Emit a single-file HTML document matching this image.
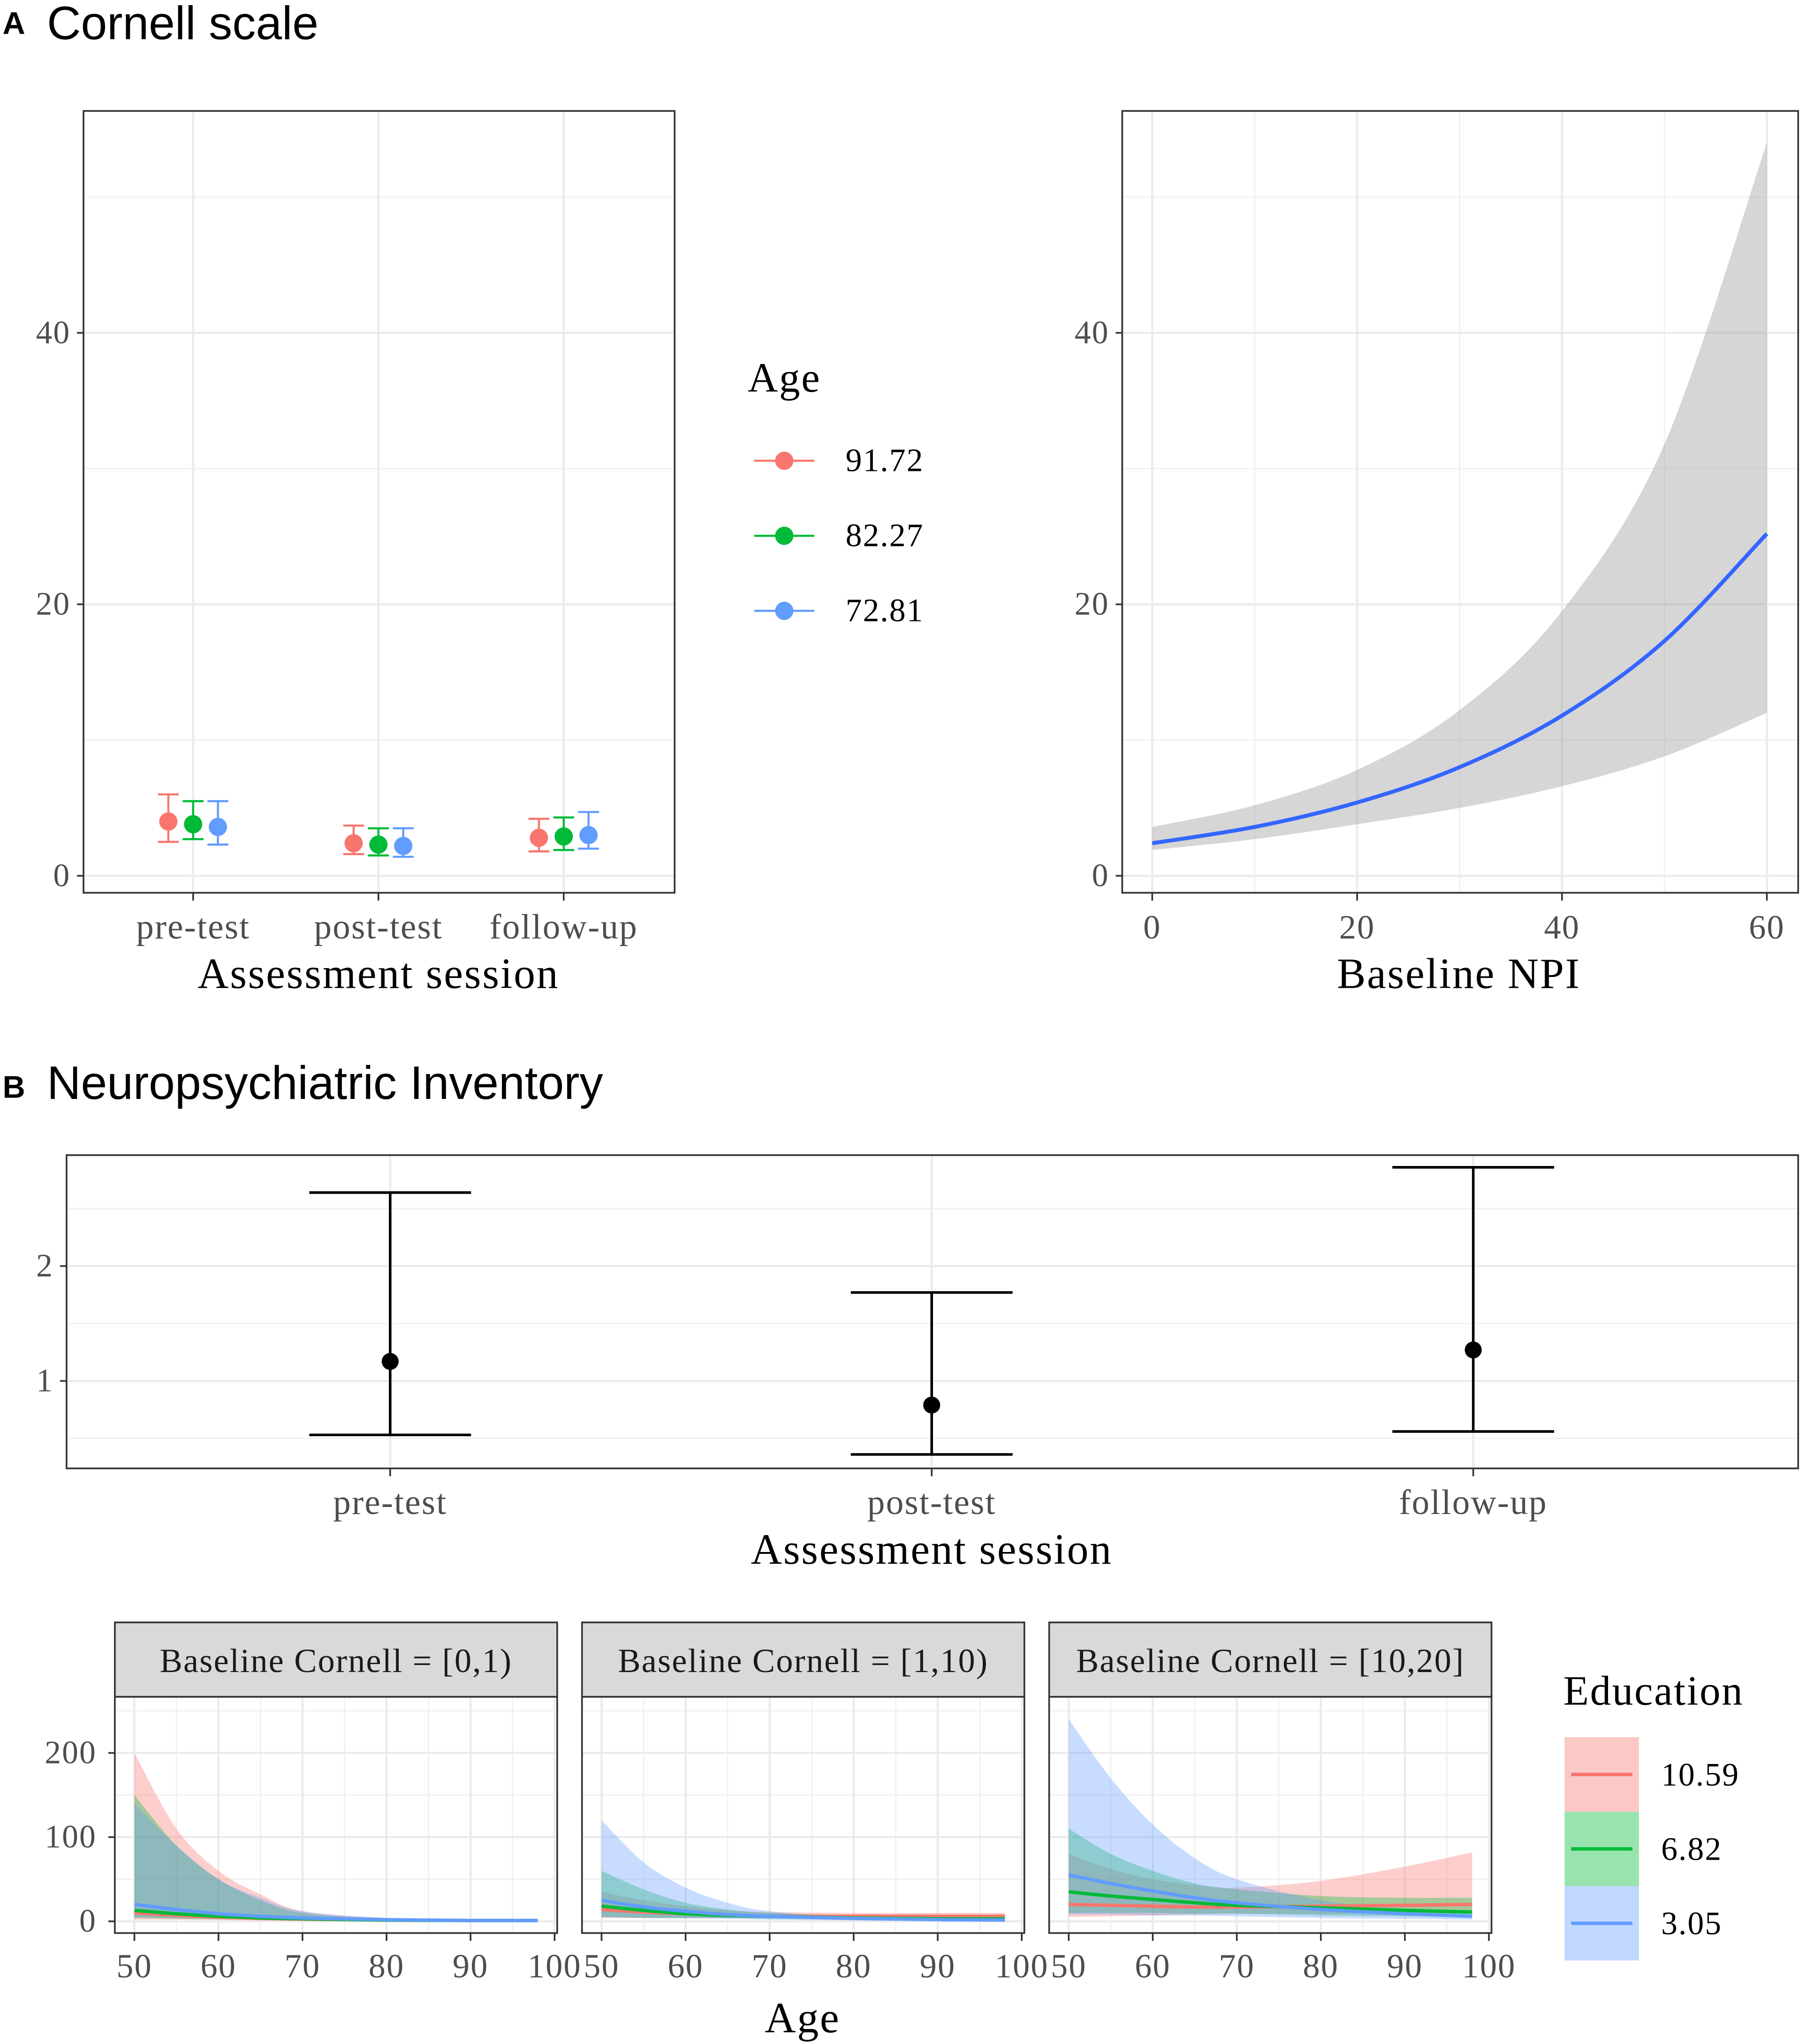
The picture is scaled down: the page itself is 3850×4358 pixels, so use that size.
<!DOCTYPE html>
<html><head><meta charset="utf-8"><style>
html,body{margin:0;padding:0;background:#fff;}
svg{display:block;}
.t{font-family:"Liberation Serif",serif;}
.s{font-family:"Liberation Sans",sans-serif;}
</style></head><body>
<svg id="fig" width="3850" height="4358" viewBox="0 0 1384 1566" preserveAspectRatio="none" xmlns="http://www.w3.org/2000/svg">
<text x="2" y="26" class="s" font-size="24" font-weight="bold">A</text>
<text x="36" y="30" class="s" font-size="36">Cornell scale</text>
<text x="2" y="841" class="s" font-size="24" font-weight="bold">B</text>
<text x="36" y="842" class="s" font-size="36">Neuropsychiatric Inventory</text>
</svg>
<script>
const NS="http://www.w3.org/2000/svg";
const svg=document.getElementById('fig');
const COL=['#F8766D','#00BA38','#619CFF'];
// ---- data A1
const sessions=['pre-test','post-test','follow-up'];
const ageLevels=['91.72','82.27','72.81'];
const a1Mean=[[4.0,2.4,2.8],[3.8,2.3,2.9],[3.6,2.2,3.0]];
const a1Lo=[[2.5,1.6,1.8],[2.7,1.5,1.9],[2.3,1.4,2.0]];
const a1Hi=[[6.0,3.7,4.2],[5.5,3.5,4.3],[5.5,3.5,4.7]];
const a1Ticks=[0,20,40];
// ---- data A2
const npiX=[0,10,20,30,40,50,60];
const npiMean=[2.4,3.6,5.4,8.0,11.8,17.3,25.2];
const npiLo=[1.9,2.7,3.8,5.0,6.6,8.8,12.0];
const npiHi=[3.6,5.2,7.8,12.2,19.5,31.8,54.0];
const a2XTicks=[0,20,40,60];
// ---- data B1
const b1Mean=[1.17,0.79,1.27];
const b1Lo=[0.53,0.36,0.56];
const b1Hi=[2.64,1.77,2.86];
const b1Ticks=[1,2];
// ---- data B2
const facetNames=['Baseline Cornell = [0,1)','Baseline Cornell = [1,10)','Baseline Cornell = [10,20]'];
const eduLevels=['10.59','6.82','3.05'];
const ages=[50,55,60,65,70,80,90,98];
const b2Hi=[
 [[200,110,60,32,12,4,2,2],[150,90,50,25,10,3,2,2],[140,90,50,28,12,4,2,2]],
 [[35,25,18,13,11,10,10,10],[60,38,22,14,10,7,6,6],[120,70,40,22,12,5,3,3]],
 [[80,62,50,43,40,48,65,82],[110,80,60,45,38,30,28,28],[240,170,115,75,50,25,15,12]]];
const b2Mean=[
 [[10,7,5,3.5,2.5,1.5,1,1],[13,9,6,4,3,1.5,1,1],[20,14,9,6,4,2,1,1]],
 [[14,11,9,7,6,6,6,6],[18,13,9,7,6,4,3,3],[25,17,12,8,6,3.5,2,1.5]],
 [[20,19,18,17,17,18,19,20],[35,30,26,22,19,16,13,11],[55,45,36,28,22,14,9,6]]];
const b2Lo=[
 [[2,2,1.5,1,1,0.5,0.5,0.5],[4,3,2.5,2,1.5,1,0.5,0.5],[5,4,3,2.5,2,1,0.5,0.5]],
 [[4,4,4,4,4,3,3,3],[5,4,4,4,3,2,1.5,1.5],[5,4,3.5,3,2,1,0.5,0.5]],
 [[5,6,7,8,9,9,9,9],[10,10,10,9,9,7,6,5],[8,8,7,7,6,4,3,2]]];
const b2XTicks=[50,60,70,80,90,100];
const b2YTicks=[0,100,200];

function el(tag,attrs,parent,text){const e=document.createElementNS(NS,tag);for(const k in attrs)e.setAttribute(k,attrs[k]);if(text!==undefined)e.textContent=text;(parent||svg).appendChild(e);return e;}
function txt(x,y,s,size,anchor,fill,parent){return el('text',{x:x,y:y,'font-size':size,'text-anchor':anchor||'middle',fill:fill||'#4d4d4d',class:'t','letter-spacing':size*0.03},parent,s);}
// smooth path through points (Catmull-Rom -> cubic)
function smooth(pts,start){
 let d=(start?'M':'L')+pts[0][0]+','+pts[0][1];
 for(let i=0;i<pts.length-1;i++){
  const p0=pts[i-1]||pts[i],p1=pts[i],p2=pts[i+1],p3=pts[i+2]||p2;
  const c1=[p1[0]+(p2[0]-p0[0])/6,p1[1]+(p2[1]-p0[1])/6];
  const c2=[p2[0]-(p3[0]-p1[0])/6,p2[1]-(p3[1]-p1[1])/6];
  d+='C'+c1+' '+c2+' '+p2;
 }
 return d;
}

// ===== A1
(function(){
const g=el('g',{});
const L=64,R=517,T=85,B=684;
const y=v=>671-v*10.4;const xc=i=>148+i*142;
[10,30,50].forEach(v=>el('line',{x1:L,x2:R,y1:y(v),y2:y(v),stroke:'#f0f0f0','stroke-width':1},g));
a1Ticks.forEach(v=>el('line',{x1:L,x2:R,y1:y(v),y2:y(v),stroke:'#ebebeb','stroke-width':1.6},g));
sessions.forEach((s,i)=>el('line',{x1:xc(i),x2:xc(i),y1:T,y2:B,stroke:'#ebebeb','stroke-width':1.6},g));
el('rect',{x:L,y:T,width:R-L,height:B-T,fill:'none',stroke:'#333','stroke-width':1.3},g);
a1Ticks.forEach(v=>{el('line',{x1:L-5,x2:L,y1:y(v),y2:y(v),stroke:'#333','stroke-width':1.3},g);const t=txt(L-10,y(v)+8,v,25,'end',null,g);});
sessions.forEach((s,i)=>{el('line',{x1:xc(i),x2:xc(i),y1:B,y2:B+6,stroke:'#333','stroke-width':1.3},g);const t=txt(xc(i),719,s,27,'middle',null,g);});
const at=txt(290,757,'Assessment session',33,'middle','#000',g);
for(let k=0;k<3;k++)for(let i=0;i<3;i++){
 const x=xc(i)+(k-1)*19;
 const p=el('g',{},g);
 el('line',{x1:x,x2:x,y1:y(a1Lo[k][i]),y2:y(a1Hi[k][i]),stroke:COL[k],'stroke-width':1.6},p);
 [a1Lo[k][i],a1Hi[k][i]].forEach(v=>el('line',{x1:x-8,x2:x+8,y1:y(v),y2:y(v),stroke:COL[k],'stroke-width':1.6},p));
 el('circle',{cx:x,cy:y(a1Mean[k][i]),r:7,fill:COL[k]},p);
}
const lg=el('g',{});
txt(573,300,'Age',32,'start','#000',lg);
ageLevels.forEach((a,k)=>{const yy=353+k*57.5;const e=el('g',{},lg);
 el('line',{x1:578,x2:624,y1:yy,y2:yy,stroke:COL[k],'stroke-width':1.6},e);el('circle',{cx:601,cy:yy,r:7,fill:COL[k]},e);txt(648,yy+8,a,25,'start','#000',e);});
})();

// ===== A2
(function(){
const g=el('g',{});
const L=860,R=1378,T=85,B=684;
const y=v=>671-v*10.4;const x=v=>883+v*7.85;
[10,30,50].forEach(v=>el('line',{x1:L,x2:R,y1:y(v),y2:y(v),stroke:'#f0f0f0','stroke-width':1},g));
[10,30,50].forEach(v=>el('line',{x1:x(v),x2:x(v),y1:T,y2:B,stroke:'#f0f0f0','stroke-width':1},g));
a1Ticks.forEach(v=>el('line',{x1:L,x2:R,y1:y(v),y2:y(v),stroke:'#ebebeb','stroke-width':1.6},g));
a2XTicks.forEach(v=>el('line',{x1:x(v),x2:x(v),y1:T,y2:B,stroke:'#ebebeb','stroke-width':1.6},g));
const hiP=npiX.map((v,i)=>[x(v),y(npiHi[i])]);
const loP=npiX.map((v,i)=>[x(v),y(npiLo[i])]).reverse();
const band=el('path',{d:smooth(hiP,true)+smooth(loP,false)+'Z',fill:'#999','fill-opacity':0.4},g);
const ln=el('path',{d:smooth(npiX.map((v,i)=>[x(v),y(npiMean[i])]),true),fill:'none',stroke:'#3366FF','stroke-width':3},g);
el('rect',{x:L,y:T,width:R-L,height:B-T,fill:'none',stroke:'#333','stroke-width':1.3},g);
a1Ticks.forEach(v=>{el('line',{x1:L-5,x2:L,y1:y(v),y2:y(v),stroke:'#333','stroke-width':1.3},g);txt(L-10,y(v)+8,v,25,'end',null,g);});
a2XTicks.forEach(v=>{el('line',{x1:x(v),x2:x(v),y1:B,y2:B+6,stroke:'#333','stroke-width':1.3},g);txt(x(v),719,v,26,'middle',null,g);});
const at=txt(1118,757,'Baseline NPI',33,'middle','#000',g);
})();

// ===== B1
(function(){
const g=el('g',{});
const L=51,R=1378,T=885,B=1125;
const y=v=>1146-v*88;const xc=i=>299+i*415;
[0.5,1.5,2.5].forEach(v=>el('line',{x1:L,x2:R,y1:y(v),y2:y(v),stroke:'#f0f0f0','stroke-width':1},g));
b1Ticks.forEach(v=>el('line',{x1:L,x2:R,y1:y(v),y2:y(v),stroke:'#ebebeb','stroke-width':1.6},g));
sessions.forEach((s,i)=>el('line',{x1:xc(i),x2:xc(i),y1:T,y2:B,stroke:'#ebebeb','stroke-width':1.6},g));
el('rect',{x:L,y:T,width:R-L,height:B-T,fill:'none',stroke:'#333','stroke-width':1.3},g);
b1Ticks.forEach(v=>{el('line',{x1:L-5,x2:L,y1:y(v),y2:y(v),stroke:'#333','stroke-width':1.3},g);txt(L-10,y(v)+8,v,25,'end',null,g);});
sessions.forEach((s,i)=>{el('line',{x1:xc(i),x2:xc(i),y1:B,y2:B+6,stroke:'#333','stroke-width':1.3},g);txt(xc(i),1160,s,27,'middle',null,g);
 const p=el('g',{},g);
 el('line',{x1:xc(i),x2:xc(i),y1:y(b1Lo[i]),y2:y(b1Hi[i]),stroke:'#000','stroke-width':2},p);
 [b1Lo[i],b1Hi[i]].forEach(v=>el('line',{x1:xc(i)-62,x2:xc(i)+62,y1:y(v),y2:y(v),stroke:'#000','stroke-width':2},p));
 el('circle',{cx:xc(i),cy:y(b1Mean[i]),r:6.5,fill:'#000'},p);});
const at=txt(714,1198,'Assessment session',33,'middle','#000',g);
})();

// ===== B2
(function(){
const T=1300,B=1481,sT=1243;
const y=v=>1472-v*0.645;
const lefts=[88,446,804];const x0s=[103,461,819];
facetNames.forEach((nm,f)=>{
 const g=el('g',{});
 const L=lefts[f],R=L+339;const x=v=>x0s[f]+(v-50)*6.44;
 const st=el('rect',{x:L,y:sT,width:339,height:T-sT,fill:'#d9d9d9',stroke:'#333','stroke-width':1.3},g);
 txt(L+169.5,1281,nm,26,'middle','#1a1a1a',g);
 [50,150,250].forEach(v=>el('line',{x1:L,x2:R,y1:y(v),y2:y(v),stroke:'#f0f0f0','stroke-width':1},g));
 [55,65,75,85,95].forEach(v=>el('line',{x1:x(v),x2:x(v),y1:T,y2:B,stroke:'#f0f0f0','stroke-width':1},g));
 b2YTicks.forEach(v=>el('line',{x1:L,x2:R,y1:y(v),y2:y(v),stroke:'#ebebeb','stroke-width':1.6},g));
 b2XTicks.forEach(v=>el('line',{x1:x(v),x2:x(v),y1:T,y2:B,stroke:'#ebebeb','stroke-width':1.6},g));
 for(let k=0;k<3;k++){
  const hiP=ages.map((a,i)=>[x(a),y(b2Hi[f][k][i])]);
  const loP=ages.map((a,i)=>[x(a),y(b2Lo[f][k][i])]).reverse();
  const r=el('path',{d:smooth(hiP,true)+smooth(loP,false)+'Z',fill:COL[k],'fill-opacity':0.35},g);
 }
 for(let k=0;k<3;k++){
  const l=el('path',{d:smooth(ages.map((a,i)=>[x(a),y(b2Mean[f][k][i])]),true),fill:'none',stroke:COL[k],'stroke-width':2.6},g);
 }
 el('rect',{x:L,y:T,width:339,height:B-T,fill:'none',stroke:'#333','stroke-width':1.3},g);
 b2XTicks.forEach(v=>{el('line',{x1:x(v),x2:x(v),y1:B,y2:B+6,stroke:'#333','stroke-width':1.3},g);txt(x(v),1515,v,26,'middle',null,g);});
 if(f===0)b2YTicks.forEach(v=>{el('line',{x1:L-5,x2:L,y1:y(v),y2:y(v),stroke:'#333','stroke-width':1.3},g);txt(L-14,y(v)+8,v,25,'end',null,g);});
});
const at=txt(615,1557,'Age',33,'middle','#000');
const lg=el('g',{});
txt(1198,1306,'Education',32,'start','#000',lg);
eduLevels.forEach((e,k)=>{const yy=1331+k*57;const en=el('g',{},lg);
 el('rect',{x:1199,y:yy,width:57,height:57,fill:COL[k],'fill-opacity':0.4},en);
 el('line',{x1:1204,x2:1251,y1:yy+28.5,y2:yy+28.5,stroke:COL[k],'stroke-width':2.6},en);
 txt(1273,yy+37,e,25,'start','#000',en);});
})();
</script>
</body></html>
